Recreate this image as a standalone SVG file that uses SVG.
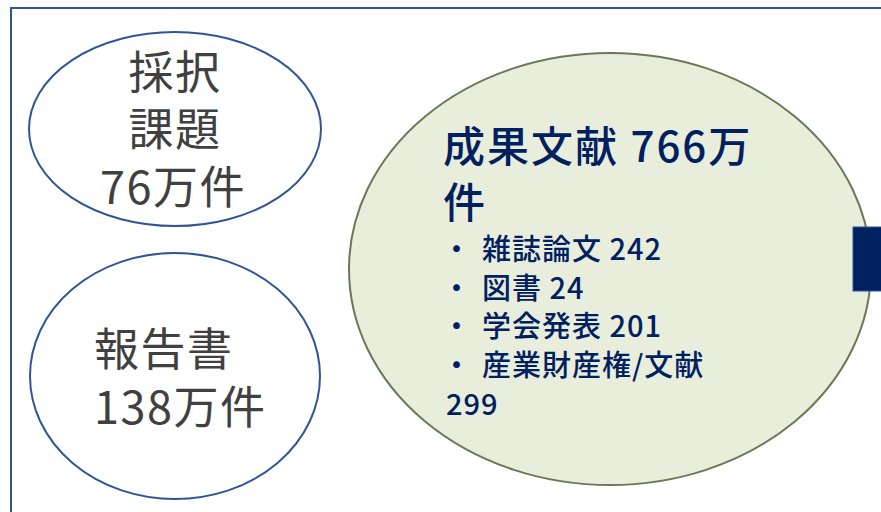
<svg xmlns="http://www.w3.org/2000/svg" width="881" height="512" viewBox="0 0 881 512">
<style>
.blue{fill:#fff;stroke:#2F5597;stroke-width:2}
.green{fill:#E9EEDC;stroke:#6B7856;stroke-width:2}
.gray{font-family:"Noto Sans CJK JP","Noto Sans",sans-serif;fill:#404040;font-size:45px;letter-spacing:1.5px}
.navy{font-family:"Noto Sans CJK JP","Noto Sans",sans-serif;fill:#002060;font-weight:500}
.big{font-size:42px;letter-spacing:2px}
.sm{font-size:29px;letter-spacing:1px}
</style>
<rect x="11" y="8" width="880" height="520" fill="#fff" stroke="#2F5597" stroke-width="2"/>
<g id="node-saitaku">
<ellipse class="blue" cx="175" cy="129" rx="146" ry="97"/>
<text class="gray" x="175" y="89" text-anchor="middle">採択</text>
<text class="gray" x="175" y="146" text-anchor="middle">課題</text>
<text class="gray" x="173" y="204" text-anchor="middle">76万件</text>
</g>
<g id="node-houkoku">
<ellipse class="blue" cx="175" cy="376" rx="145" ry="123"/>
<text class="gray" x="94" y="366">報告書</text>
<text class="gray" x="94" y="424">138万件</text>
</g>
<g id="node-seika">
<ellipse class="green" cx="610" cy="269" rx="261" ry="216"/>
<text class="navy big" x="443" y="162">成果文献 766万</text>
<text class="navy big" x="443" y="218">件</text>
<g class="navy sm">
<text x="457" y="260" text-anchor="middle">・</text><text x="482" y="260">雑誌論文 242</text>
<text x="457" y="299" text-anchor="middle">・</text><text x="482" y="299">図書 24</text>
<text x="457" y="337" text-anchor="middle">・</text><text x="482" y="337">学会発表 201</text>
<text x="457" y="376" text-anchor="middle">・</text><text x="482" y="376">産業財産権/文献</text>
<text x="446" y="415">299</text>
</g>
</g>
<g id="node-bar">
<rect x="853" y="227" width="40" height="64" fill="#002060" stroke="#2F5597" stroke-width="1"/>
</g>
<g id="connectors"></g>
</svg>
